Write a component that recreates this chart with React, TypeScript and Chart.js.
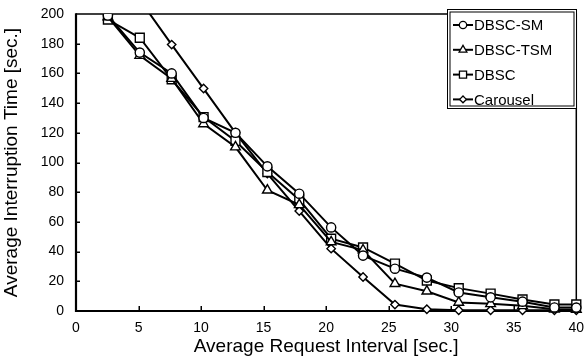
import React, { useEffect, useRef } from "react";
import { Chart, registerables } from "chart.js";
import { drawPoint } from "chart.js/helpers";

Chart.register(...registerables);

// ---- data ----
const xValues = [2.55, 5.1, 7.65, 10.2, 12.75, 15.3, 17.85, 20.4, 22.95, 25.5, 28.05, 30.6, 33.15, 35.7, 38.25, 40];
const dbscSm = [199, 174, 160, 130, 120, 97.4, 79, 56.3, 37.3, 28.5, 22.5, 12.5, 9.2, 6.3, 2.4, 2.3];
const dbscTsm = [198, 172, 156.5, 126, 110.4, 81.3, 71.5, 46.5, 41, 18.4, 13.3, 5.8, 4.8, 3.5, 1.2, 1];
const dbsc = [196.3, 184, 156, 130.6, 114.5, 93.6, 75, 48.7, 42.8, 31.9, 20.5, 15.4, 11.7, 7.8, 4.4, 4.4];
const carousel = [240, 209.5, 179.4, 149.8, 120, 92.5, 67.3, 42, 22.9, 4.3, 1.2, 0.5, 0.5, 0.5, 0.5, 0.5];
const seriesLabels = ["DBSC-SM", "DBSC-TSM", "DBSC", "Carousel"];
const seriesStyles = ["circle", "triangle", "rect", "rectRot"];
const seriesRadius = [4.6, 5.6, 6.3, 4.2];
const xMin = 0, xMax = 40, xStep = 5;
const yMin = 0, yMax = 200, yStep = 20;
const xTitle = "Average Request Interval [sec.]";
const yTitle = "Average Interruption Time [sec.]";

const FONT = "'Liberation Sans', Arial, sans-serif";

const framePlugin = {
  id: "frame",
  beforeDatasetsDraw(chart: any) {
    const { ctx, chartArea } = chart;
    const { left, right, top, bottom } = chartArea;
    const xs = chart.scales.x;
    const ys = chart.scales.y;
    ctx.save();
    ctx.strokeStyle = "#000";
    ctx.lineWidth = 1.5;
    ctx.beginPath();
    ctx.moveTo(left, top);
    ctx.lineTo(right, top);
    ctx.lineTo(right, bottom);
    ctx.stroke();
    ctx.lineWidth = 2.2;
    ctx.beginPath();
    ctx.moveTo(left, top - 0.7);
    ctx.lineTo(left, bottom);
    ctx.lineTo(right + 0.7, bottom);
    ctx.stroke();
    ctx.lineWidth = 1.5;
    ctx.beginPath();
    for (let v = xMin + xStep; v < xMax; v += xStep) {
      const px = Math.round(xs.getPixelForValue(v)) + 0.25;
      ctx.moveTo(px, bottom);
      ctx.lineTo(px, bottom - 5);
    }
    for (let v = yMin + yStep; v < yMax; v += yStep) {
      const py = Math.round(ys.getPixelForValue(v)) + 0.25;
      ctx.moveTo(left, py);
      ctx.lineTo(left + 4, py);
    }
    ctx.stroke();
    ctx.restore();
  },
};

const legendPlugin = {
  id: "boxLegend",
  afterDraw(chart: any) {
    const ctx = chart.ctx;
    const x0 = 447.5, y0 = 9.5, w = 129, h = 99;
    ctx.save();
    ctx.fillStyle = "#fff";
    ctx.fillRect(x0, y0, w, h);
    ctx.strokeStyle = "#000";
    ctx.lineWidth = 1;
    ctx.strokeRect(x0, y0, w, h);
    ctx.strokeRect(x0 + 2.5, y0 + 2.5, w - 5, h - 5);
    chart.data.datasets.forEach((ds: any, i: number) => {
      const cy = 25 + i * 24.8;
      ctx.strokeStyle = "#000";
      ctx.lineWidth = 2;
      ctx.beginPath();
      ctx.moveTo(453, cy);
      ctx.lineTo(473, cy);
      ctx.stroke();
      ctx.fillStyle = "#fff";
      ctx.lineWidth = 1.3;
      drawPoint(ctx, { pointStyle: ds.pointStyle, radius: ds.pointRadius * 0.8, rotation: 0, borderWidth: 1.3 }, 463, cy);
      ctx.fillStyle = "#000";
      ctx.font = `15px ${FONT}`;
      ctx.textBaseline = "middle";
      ctx.textAlign = "left";
      ctx.fillText(ds.label, 474, cy + 1);
    });
    ctx.restore();
  },
};

export default function App() {
  const ref = useRef<HTMLCanvasElement | null>(null);
  useEffect(() => {
    if (!ref.current) return;
    const seriesData = [dbscSm, dbscTsm, dbsc, carousel];
    const chart = new Chart(ref.current, {
      type: "line",
      data: {
        labels: xValues,
        datasets: seriesData.map((vals, i) => ({
          label: seriesLabels[i],
          data: vals.map((v, j) => ({ x: xValues[j], y: v })),
          borderColor: "#000",
          borderWidth: 2,
          backgroundColor: "#fff",
          pointBackgroundColor: "#fff",
          pointBorderColor: "#000",
          pointBorderWidth: 1.4,
          pointStyle: seriesStyles[i] as any,
          pointRadius: seriesRadius[i],
          tension: 0,
          clip: { left: 0, top: 0, right: 8, bottom: 8 } as any,
        })),
      },
      options: {
        responsive: false,
        animation: false,
        events: [],
        layout: { padding: { left: 0, top: 14, right: 3, bottom: 0 } },
        plugins: { legend: { display: false }, tooltip: { enabled: false } },
        scales: {
          x: {
            type: "linear",
            min: xMin,
            max: xMax,
            ticks: { stepSize: xStep, color: "#000", font: { family: FONT, size: 14 }, padding: 9, maxRotation: 0 },
            grid: { display: false, drawTicks: false },
            border: { display: false },
            title: { display: true, text: xTitle, color: "#000", font: { family: FONT, size: 19 }, padding: 0 },
            afterFit(scale: any) {
              scale.height = 47;
              scale.paddingLeft = 0;
              scale.paddingRight = 0;
            },
          },
          y: {
            type: "linear",
            min: yMin,
            max: yMax,
            ticks: { stepSize: yStep, color: "#000", font: { family: FONT, size: 14 }, padding: 12 },
            grid: { display: false, drawTicks: false },
            border: { display: false },
            title: { display: true, text: yTitle, color: "#000", font: { family: FONT, size: 19 }, padding: 0 },
            afterFit(scale: any) {
              scale.width = 76;
              scale.paddingTop = 0;
              scale.paddingBottom = 0;
            },
          },
        },
      },
      plugins: [framePlugin, legendPlugin],
    });
    return () => chart.destroy();
  }, []);
  return (
    <div style={{ position: "fixed", left: 0, top: 0, width: 584, height: 358, background: "#fff" }}>
      <canvas ref={ref} width={584} height={358} style={{ width: 584, height: 358 }} />
    </div>
  );
}
